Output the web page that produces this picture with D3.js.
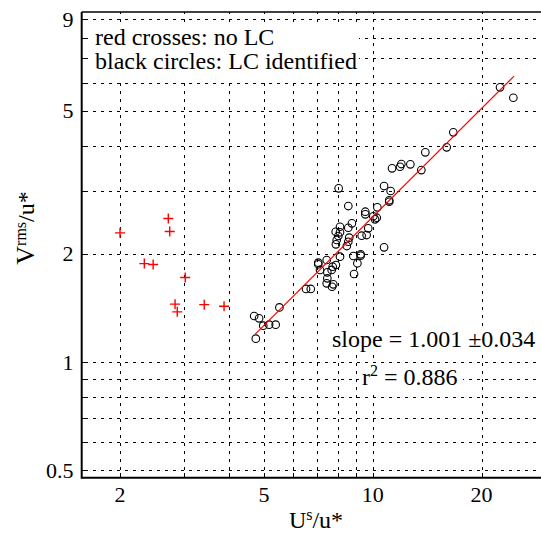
<!DOCTYPE html>
<html>
<head>
<meta charset="utf-8">
<script src="https://cdn.jsdelivr.net/npm/d3@7"></script>
<style>
    html, body { margin: 0; padding: 0; background: #fff; }
    svg { display: block; font-family: "Liberation Serif", "Times New Roman", serif; }
</style>
</head>
<body>
<div id="chart"></div>
<script>
// red crosses: no LC
const crossX = [2.00, 2.72, 2.745, 2.335, 2.47, 3.03, 2.84, 2.88, 3.42, 3.88]
const crossY = [2.29, 2.51, 2.31, 1.88, 1.87, 1.72, 1.45, 1.38, 1.445, 1.43]

// black circles: LC identified
const circleX = [4.70, 4.85, 4.98, 5.17, 5.39, 4.75, 5.52, 6.54, 6.74, 7.07,
    7.07, 7.46, 7.15, 7.49, 7.70, 7.75, 7.91, 8.12, 7.49, 7.46,
    7.78, 7.72, 8.88, 9.07, 8.84, 9.26, 9.26, 10.75, 8.48, 8.56,
    7.91, 7.95, 8.61, 8.03, 7.90, 8.12, 9.32, 9.62, 8.12, 8.56,
    9.72, 8.76, 10.04, 10.26, 10.15, 9.54, 9.54, 8.56, 10.30, 11.11,
    11.11, 8.05, 10.75, 11.21, 11.31, 11.90, 12.00, 12.71, 13.63, 13.98,
    16.02, 16.71, 22.5, 24.49]
const circleY = [1.344, 1.324, 1.263, 1.271, 1.271, 1.162, 1.420, 1.598, 1.598, 1.891,
    1.872, 1.924, 1.805, 1.778, 1.805, 1.843, 1.863, 1.965, 1.711, 1.657,
    1.646, 1.621, 1.759, 1.884, 1.974, 1.995, 1.978, 2.087, 2.104, 2.163,
    2.127, 2.187, 2.220, 2.244, 2.306, 2.298, 2.248, 2.258, 2.381, 2.366,
    2.357, 2.434, 2.546, 2.523, 2.497, 2.622, 2.578, 2.719, 2.697, 2.820,
    2.795, 3.045, 3.091, 2.994, 3.462, 3.498, 3.559, 3.552, 3.424, 3.836,
    3.961, 4.361, 5.818, 5.443]

// fitted power law, end points
const fitX = [4.725, 24.6]
const fitY = [1.195, 6.255]

const xTickLabels = [2, 5, 10, 20]
const yTickLabels = [0.5, 1, 2, 5, 9]
const xGrid = [2, 3, 4, 5, 6, 7, 8, 9, 10, 20]
const yGrid = [0.5, 0.6, 0.7, 0.8, 0.9, 1, 2, 3, 4, 5, 6, 7, 8, 9]

const slopeText = "slope = 1.001 \u00b10.034"
const r2Value = "0.886"

function drawChart() {
    const width = 541, height = 535
    const left = 81.7, right = 545.2, top = 12, bottom = 477.7

    const svg = d3.select("#chart").append("svg")
        .attr("width", width)
        .attr("height", height)

    const x = d3.scaleLog().domain([1.567, 30]).range([left, right])
    const y = d3.scaleLog().domain([0.4767, 9.43]).range([bottom, top])

    // dashed grid
    const grid = svg.append("g")
        .attr("stroke", "#000")
        .attr("stroke-width", 1)
        .attr("stroke-dasharray", "3,5")
        .attr("shape-rendering", "crispEdges")
    grid.selectAll("line.v").data(xGrid).join("line")
        .attr("class", "v")
        .attr("x1", d => Math.round(x(d)) + 0.5).attr("x2", d => Math.round(x(d)) + 0.5)
        .attr("y1", bottom).attr("y2", top)
    grid.selectAll("line.h").data(yGrid).join("line")
        .attr("class", "h")
        .attr("x1", left + 3).attr("x2", right)
        .attr("y1", d => Math.round(y(d)) + 0.5).attr("y2", d => Math.round(y(d)) + 0.5)

    // inner tick marks
    const ticks = svg.append("g").attr("stroke", "#000").attr("stroke-width", 1)
        .attr("shape-rendering", "crispEdges")
    ticks.selectAll("line.xt").data(xGrid).join("line")
        .attr("class", "xt")
        .attr("x1", d => Math.round(x(d)) + 0.5).attr("x2", d => Math.round(x(d)) + 0.5)
        .attr("y1", bottom).attr("y2", bottom - 5)
    ticks.selectAll("line.yt").data(yGrid).join("line")
        .attr("class", "yt")
        .attr("x1", left).attr("x2", left + 5)
        .attr("y1", d => Math.round(y(d)) + 0.5).attr("y2", d => Math.round(y(d)) + 0.5)

    // white boxes behind the texts
    svg.append("rect").attr("x", 90).attr("y", 25).attr("width", 269).attr("height", 53).attr("fill", "#fff")
    svg.append("rect").attr("x", 329).attr("y", 327).attr("width", 210).attr("height", 27).attr("fill", "#fff")
    svg.append("rect").attr("x", 359).attr("y", 363).attr("width", 104).attr("height", 30).attr("fill", "#fff")

    // frame
    svg.append("line").attr("x1", left).attr("x2", width).attr("y1", top).attr("y2", top)
        .attr("stroke", "#000").attr("stroke-width", 1.5)
    svg.append("line").attr("x1", left).attr("x2", width).attr("y1", bottom).attr("y2", bottom)
        .attr("stroke", "#000").attr("stroke-width", 2)
    svg.append("line").attr("x1", left).attr("x2", left).attr("y1", top).attr("y2", bottom + 1)
        .attr("stroke", "#000").attr("stroke-width", 2)

    // tick labels
    svg.append("g").selectAll("text").data(xTickLabels).join("text")
        .attr("x", d => x(d)).attr("y", 502)
        .attr("text-anchor", "middle")
        .attr("font-size", 22)
        .text(d => d)
    svg.append("g").selectAll("text").data(yTickLabels).join("text")
        .attr("x", 73.5).attr("y", d => y(d) + 7.5)
        .attr("text-anchor", "end")
        .attr("font-size", 22)
        .text(d => d)

    // circles
    svg.append("g").selectAll("circle").data(circleX.map((d, i) => [d, circleY[i]])).join("circle")
        .attr("cx", d => x(d[0])).attr("cy", d => y(d[1]))
        .attr("r", 3.8)
        .attr("fill", "none")
        .attr("stroke", "#000")
        .attr("stroke-width", 1.1)

    // fit line
    svg.append("path")
        .datum(fitX.map((d, i) => [d, fitY[i]]))
        .attr("fill", "none")
        .attr("stroke", "#ff0000")
        .attr("stroke-width", 1.2)
        .attr("d", d3.line().x(d => x(d[0])).y(d => y(d[1])))

    // crosses
    svg.append("g").selectAll("path").data(crossX.map((d, i) => [d, crossY[i]])).join("path")
        .attr("d", d => {
            const cx = x(d[0]), cy = y(d[1])
            return `M${cx - 5},${cy}H${cx + 5}M${cx},${cy - 5}V${cy + 5}`
        })
        .attr("stroke", "#ff0000")
        .attr("stroke-width", 1.4)

    // legend
    svg.append("text").attr("x", 95).attr("y", 45).attr("font-size", 24).text("red crosses: no LC")
    svg.append("text").attr("x", 95).attr("y", 68.5).attr("font-size", 24).text("black circles: LC identified")

    // fit annotation
    svg.append("text").attr("x", 332).attr("y", 347).attr("font-size", 24).text(slopeText)
    const r2 = svg.append("text").attr("x", 362).attr("y", 385).attr("font-size", 24)
    r2.append("tspan").text("r")
    r2.append("tspan").attr("font-size", 16).attr("dy", -9).text("2")
    r2.append("tspan").attr("dy", 9).text(" = " + r2Value)

    // axis titles
    const xt = svg.append("text").attr("x", 316).attr("y", 528).attr("text-anchor", "middle").attr("font-size", 24)
    xt.append("tspan").text("U")
    xt.append("tspan").attr("font-size", 16).attr("dy", -8).text("s")
    xt.append("tspan").attr("dy", 8).text("/u*")

    const yt = svg.append("text")
        .attr("transform", "translate(34,228) rotate(-90)")
        .attr("text-anchor", "middle")
        .attr("font-size", 24)
    yt.append("tspan").attr("font-size", 26).text("V")
    yt.append("tspan").attr("font-size", 16).attr("dy", -8).text("rms")
    yt.append("tspan").attr("dy", 8).text("/u*")
}

drawChart()
</script>
</body>
</html>
